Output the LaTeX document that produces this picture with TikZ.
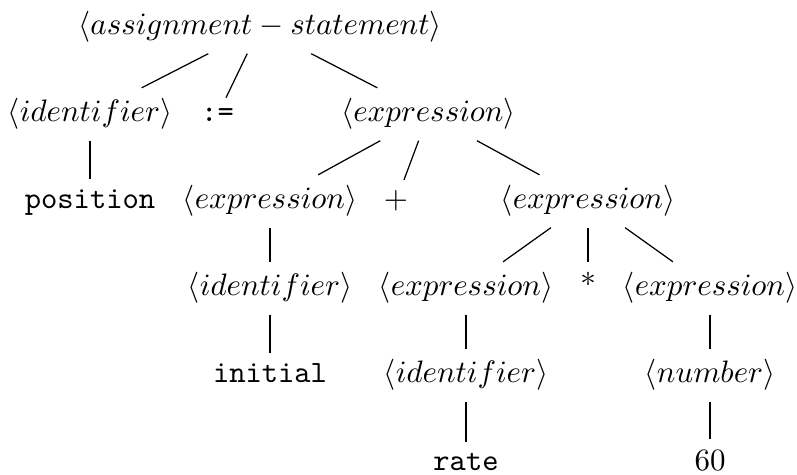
\documentclass[tikz,border=0pt]{standalone}
\begin{document}
\begin{tikzpicture}[x=0.3226pt,y=-0.3226pt, tn/.style={anchor=base}]
\useasboundingbox (0,0) rectangle (797,475);
\node[tn] (root) at (260,35) {$\langle assignment - statement\rangle$};
\node[tn] (id1) at (90,122) {$\langle identifier\rangle$};
\node[tn] (assign) at (217.5,122) {\texttt{:=}};
\node[tn] (e1) at (428.5,122) {$\langle expression\rangle$};
\node[tn] (pos) at (90,209) {\texttt{position}};
\node[tn] (e2) at (270,209) {$\langle expression\rangle$};
\node[tn] (plus) at (396,209) {$+$};
\node[tn] (e3) at (588,209) {$\langle expression\rangle$};
\node[tn] (id2) at (270,296) {$\langle identifier\rangle$};
\node[tn] (e4) at (466,296) {$\langle expression\rangle$};
\node[tn] (star) at (588,296) {*};
\node[tn] (e5) at (710,296) {$\langle expression\rangle$};
\node[tn] (init) at (270,383) {\texttt{initial}};
\node[tn] (id3) at (466,383) {$\langle identifier\rangle$};
\node[tn] (num) at (710,383) {$\langle number\rangle$};
\node[tn] (rate) at (466,470) {\texttt{rate}};
\node[tn] (sixty) at (710,470) {$60$};
\draw (root) -- (id1);
\draw (root) -- (assign);
\draw (root) -- (e1);
\draw (id1) -- (pos);
\draw (e1) -- (e2);
\draw (e1) -- (plus);
\draw (e1) -- (e3);
\draw (e2) -- (id2);
\draw (id2) -- (init);
\draw (e3) -- (e4);
\draw (e3) -- (star);
\draw (e3) -- (e5);
\draw (e4) -- (id3);
\draw (id3) -- (rate);
\draw (e5) -- (num);
\draw (num) -- (sixty);
\end{tikzpicture}
\end{document}
